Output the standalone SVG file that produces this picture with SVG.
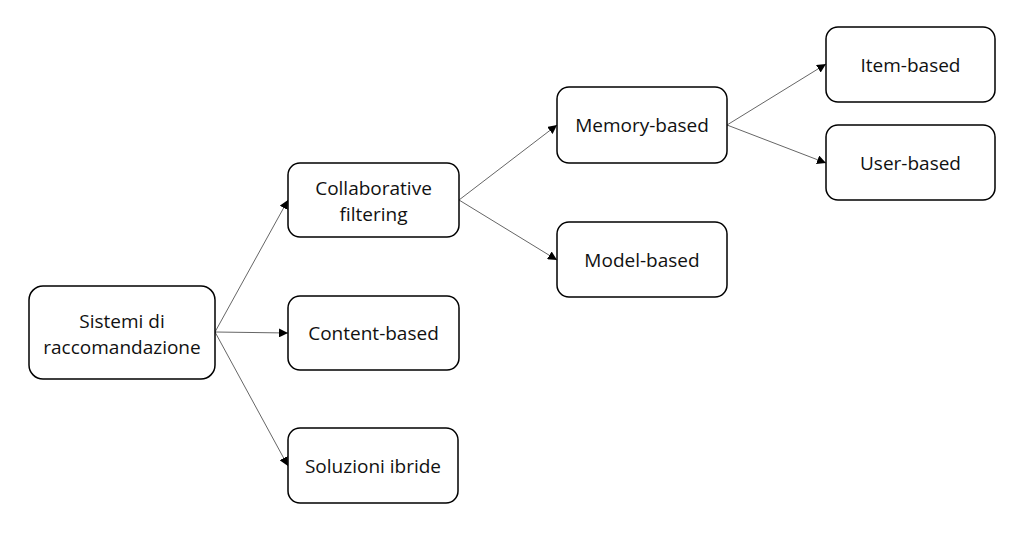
<svg xmlns="http://www.w3.org/2000/svg" width="1024" height="538" viewBox="0 0 1024 538">
<style>
.box{fill:#fff;stroke:#000;stroke-width:1.5}
.lbl{font-family:"Open Sans","Liberation Sans",sans-serif;font-size:19px;fill:#111;text-anchor:middle}
.edge{stroke:#666;stroke-width:1;fill:none;marker-end:url(#ah)}
</style>
<defs>
<marker id="ah" viewBox="0 0 10 10" refX="10" refY="5" markerWidth="9" markerHeight="9" markerUnits="userSpaceOnUse" orient="auto">
<path d="M0,0 L10,5 L0,10 z" fill="#000"/>
</marker>
</defs>
<rect width="1024" height="538" fill="#fff"/>
<g id="connectors">
<line class="edge" x1="215" y1="332" x2="288" y2="200"/>
<line class="edge" x1="215" y1="332" x2="288" y2="333"/>
<line class="edge" x1="215" y1="332" x2="288" y2="466"/>
<line class="edge" x1="459" y1="200" x2="557" y2="125"/>
<line class="edge" x1="459" y1="200" x2="557" y2="260"/>
<line class="edge" x1="727" y1="125" x2="826" y2="64"/>
<line class="edge" x1="727" y1="125" x2="826" y2="163"/>
</g>
<g id="sistemi">
<rect class="box" x="29" y="286" width="186" height="93" rx="14"/>
<text class="lbl" x="122" y="328">Sistemi di</text>
<text class="lbl" x="122" y="354">raccomandazione</text>
</g>
<g id="collaborative">
<rect class="box" x="288" y="163" width="171" height="74" rx="12"/>
<text class="lbl" x="373.5" y="195">Collaborative</text>
<text class="lbl" x="373.5" y="221">filtering</text>
</g>
<g id="content">
<rect class="box" x="288" y="296" width="171" height="74" rx="12"/>
<text class="lbl" x="373.5" y="340">Content-based</text>
</g>
<g id="soluzioni">
<rect class="box" x="288" y="428" width="170" height="75" rx="12"/>
<text class="lbl" x="373" y="473">Soluzioni ibride</text>
</g>
<g id="memory">
<rect class="box" x="557" y="87" width="170" height="76" rx="12"/>
<text class="lbl" x="642" y="132">Memory-based</text>
</g>
<g id="model">
<rect class="box" x="557" y="222" width="170" height="75" rx="12"/>
<text class="lbl" x="642" y="267">Model-based</text>
</g>
<g id="item">
<rect class="box" x="826" y="27" width="169" height="75" rx="12"/>
<text class="lbl" x="910.5" y="72">Item-based</text>
</g>
<g id="user">
<rect class="box" x="826" y="125" width="169" height="75" rx="12"/>
<text class="lbl" x="910.5" y="170">User-based</text>
</g>
</svg>
